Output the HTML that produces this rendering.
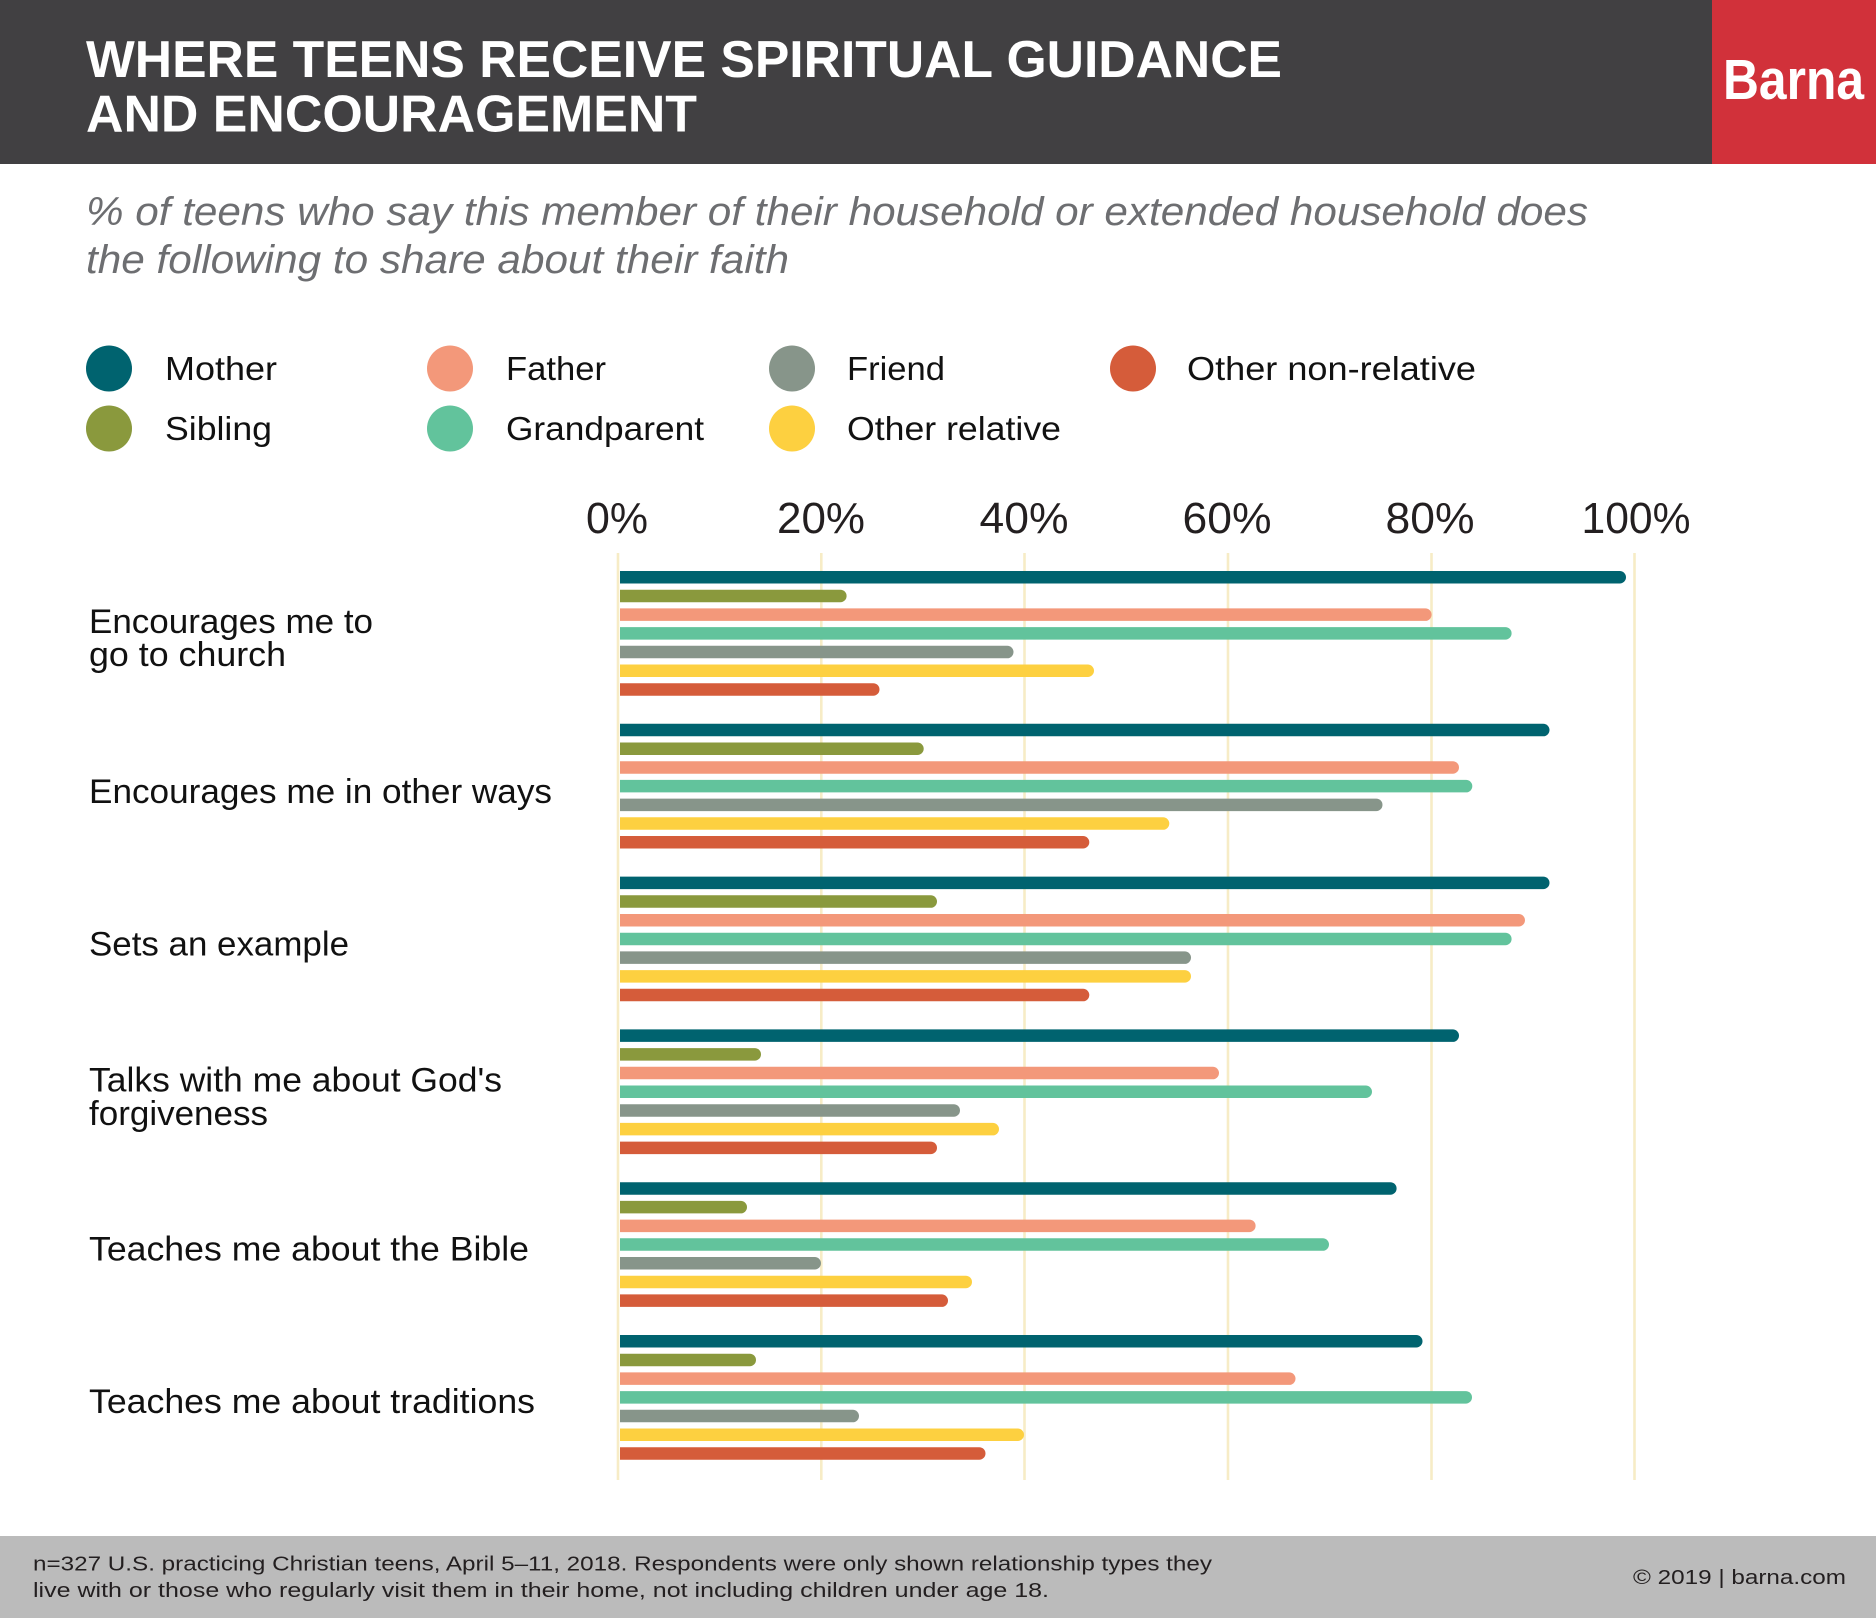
<!DOCTYPE html>
<html>
<head>
<meta charset="utf-8">
<style>
  html,body{margin:0;padding:0;background:#fff;}
  svg{display:block;}
  text{font-family:"Liberation Sans",Arial,sans-serif;}
</style>
</head>
<body>
<svg width="1876" height="1618" viewBox="0 0 1876 1618" xmlns="http://www.w3.org/2000/svg">
  <rect x="0" y="0" width="1876" height="1618" fill="#ffffff"/>
  <!-- header -->
  <rect x="0" y="0" width="1712" height="164" fill="#414042"/>
  <rect x="1712" y="0" width="164" height="164" fill="#d1313a"/>
  <text x="86" y="77" font-size="51.5" font-weight="bold" fill="#ffffff" textLength="1196" lengthAdjust="spacingAndGlyphs">WHERE TEENS RECEIVE SPIRITUAL GUIDANCE</text>
  <text x="86" y="131.5" font-size="51.5" font-weight="bold" fill="#ffffff" textLength="611" lengthAdjust="spacingAndGlyphs">AND ENCOURAGEMENT</text>
  <text x="1723" y="99" font-size="57" font-weight="bold" fill="#ffffff" textLength="141" lengthAdjust="spacingAndGlyphs">Barna</text>

  <!-- subtitle -->
  <text x="86" y="225" font-size="40" font-style="italic" fill="#6d6e71" textLength="1502" lengthAdjust="spacingAndGlyphs">% of teens who say this member of their household or extended household does</text>
  <text x="86" y="273" font-size="40" font-style="italic" fill="#6d6e71" textLength="703" lengthAdjust="spacingAndGlyphs">the following to share about their faith</text>

  <!-- legend -->
  <circle cx="109" cy="368.5" r="23" fill="#00636f"/>
  <circle cx="450" cy="368.5" r="23" fill="#f3987a"/>
  <circle cx="792" cy="368.5" r="23" fill="#87958a"/>
  <circle cx="1133" cy="368.5" r="23" fill="#d55c3a"/>
  <circle cx="109" cy="428.5" r="23" fill="#8a993d"/>
  <circle cx="450" cy="428.5" r="23" fill="#62c39c"/>
  <circle cx="792" cy="428.5" r="23" fill="#fdd040"/>
  <g font-size="33" fill="#111111">
    <text x="165" y="380" textLength="112" lengthAdjust="spacingAndGlyphs">Mother</text>
    <text x="506" y="380" textLength="100" lengthAdjust="spacingAndGlyphs">Father</text>
    <text x="847" y="380" textLength="98" lengthAdjust="spacingAndGlyphs">Friend</text>
    <text x="1187" y="380" textLength="289" lengthAdjust="spacingAndGlyphs">Other non-relative</text>
    <text x="165" y="440" textLength="107" lengthAdjust="spacingAndGlyphs">Sibling</text>
    <text x="506" y="440" textLength="198" lengthAdjust="spacingAndGlyphs">Grandparent</text>
    <text x="847" y="440" textLength="214" lengthAdjust="spacingAndGlyphs">Other relative</text>
  </g>

  <!-- axis labels -->
  <g font-size="44" fill="#231f20" text-anchor="middle">
    <text x="617" y="533" textLength="62" lengthAdjust="spacingAndGlyphs">0%</text>
    <text x="821" y="533" textLength="88" lengthAdjust="spacingAndGlyphs">20%</text>
    <text x="1024" y="533" textLength="89" lengthAdjust="spacingAndGlyphs">40%</text>
    <text x="1227" y="533" textLength="89" lengthAdjust="spacingAndGlyphs">60%</text>
    <text x="1430" y="533" textLength="89" lengthAdjust="spacingAndGlyphs">80%</text>
    <text x="1636" y="533" textLength="109" lengthAdjust="spacingAndGlyphs">100%</text>
  </g>

  <!-- gridlines -->
  <g stroke="#f7ecc6" stroke-width="2.6">
    <line x1="618" y1="553" x2="618" y2="1480"/>
    <line x1="821.3" y1="553" x2="821.3" y2="1480"/>
    <line x1="1024.5" y1="553" x2="1024.5" y2="1480"/>
    <line x1="1228" y1="553" x2="1228" y2="1480"/>
    <line x1="1431.5" y1="553" x2="1431.5" y2="1480"/>
    <line x1="1634.5" y1="553" x2="1634.5" y2="1480"/>
  </g>

  <!-- category labels -->
  <g font-size="34" fill="#111111">
    <text x="89" y="633" textLength="284" lengthAdjust="spacingAndGlyphs">Encourages me to</text>
    <text x="89" y="666" textLength="197" lengthAdjust="spacingAndGlyphs">go to church</text>
    <text x="89" y="803" textLength="463" lengthAdjust="spacingAndGlyphs">Encourages me in other ways</text>
    <text x="89" y="955.5" textLength="260" lengthAdjust="spacingAndGlyphs">Sets an example</text>
    <text x="89" y="1091.5" textLength="413" lengthAdjust="spacingAndGlyphs">Talks with me about God's</text>
    <text x="89" y="1125" textLength="179" lengthAdjust="spacingAndGlyphs">forgiveness</text>
    <text x="89" y="1260.7" textLength="440" lengthAdjust="spacingAndGlyphs">Teaches me about the Bible</text>
    <text x="89" y="1413" textLength="446" lengthAdjust="spacingAndGlyphs">Teaches me about traditions</text>
  </g>

  <!-- bars -->
  <!-- Group 1 -->
  <path fill="#00636f" d="M620 571h999.75a6.25 6.25 0 0 1 0 12.5H620z"/>
  <path fill="#8a993d" d="M620 589.7h220.35a6.25 6.25 0 0 1 0 12.5H620z"/>
  <path fill="#f3987a" d="M620 608.4h805.35a6.25 6.25 0 0 1 0 12.5H620z"/>
  <path fill="#62c39c" d="M620 627.1h885.35a6.25 6.25 0 0 1 0 12.5H620z"/>
  <path fill="#87958a" d="M620 645.8h387.25a6.25 6.25 0 0 1 0 12.5H620z"/>
  <path fill="#fdd040" d="M620 664.5h467.75a6.25 6.25 0 0 1 0 12.5H620z"/>
  <path fill="#d55c3a" d="M620 683.2h253.25a6.25 6.25 0 0 1 0 12.5H620z"/>
  <!-- Group 2 -->
  <path fill="#00636f" d="M620 723.8h923.25a6.25 6.25 0 0 1 0 12.5H620z"/>
  <path fill="#8a993d" d="M620 742.5h297.45a6.25 6.25 0 0 1 0 12.5H620z"/>
  <path fill="#f3987a" d="M620 761.2h832.75a6.25 6.25 0 0 1 0 12.5H620z"/>
  <path fill="#62c39c" d="M620 779.9h846.05a6.25 6.25 0 0 1 0 12.5H620z"/>
  <path fill="#87958a" d="M620 798.6h756.25a6.25 6.25 0 0 1 0 12.5H620z"/>
  <path fill="#fdd040" d="M620 817.3h543.05a6.25 6.25 0 0 1 0 12.5H620z"/>
  <path fill="#d55c3a" d="M620 836h463.05a6.25 6.25 0 0 1 0 12.5H620z"/>
  <!-- Group 3 -->
  <path fill="#00636f" d="M620 876.6h923.25a6.25 6.25 0 0 1 0 12.5H620z"/>
  <path fill="#8a993d" d="M620 895.3h310.75a6.25 6.25 0 0 1 0 12.5H620z"/>
  <path fill="#f3987a" d="M620 914h898.75a6.25 6.25 0 0 1 0 12.5H620z"/>
  <path fill="#62c39c" d="M620 932.7h885.35a6.25 6.25 0 0 1 0 12.5H620z"/>
  <path fill="#87958a" d="M620 951.4h564.75a6.25 6.25 0 0 1 0 12.5H620z"/>
  <path fill="#fdd040" d="M620 970.1h564.75a6.25 6.25 0 0 1 0 12.5H620z"/>
  <path fill="#d55c3a" d="M620 988.8h463.05a6.25 6.25 0 0 1 0 12.5H620z"/>
  <!-- Group 4 -->
  <path fill="#00636f" d="M620 1029.4h832.75a6.25 6.25 0 0 1 0 12.5H620z"/>
  <path fill="#8a993d" d="M620 1048.1h134.75a6.25 6.25 0 0 1 0 12.5H620z"/>
  <path fill="#f3987a" d="M620 1066.8h592.75a6.25 6.25 0 0 1 0 12.5H620z"/>
  <path fill="#62c39c" d="M620 1085.5h745.75a6.25 6.25 0 0 1 0 12.5H620z"/>
  <path fill="#87958a" d="M620 1104.2h333.75a6.25 6.25 0 0 1 0 12.5H620z"/>
  <path fill="#fdd040" d="M620 1122.9h372.75a6.25 6.25 0 0 1 0 12.5H620z"/>
  <path fill="#d55c3a" d="M620 1141.6h310.75a6.25 6.25 0 0 1 0 12.5H620z"/>
  <!-- Group 5 -->
  <path fill="#00636f" d="M620 1182.2h770.35a6.25 6.25 0 0 1 0 12.5H620z"/>
  <path fill="#8a993d" d="M620 1200.9h120.75a6.25 6.25 0 0 1 0 12.5H620z"/>
  <path fill="#f3987a" d="M620 1219.6h629.35a6.25 6.25 0 0 1 0 12.5H620z"/>
  <path fill="#62c39c" d="M620 1238.3h702.75a6.25 6.25 0 0 1 0 12.5H620z"/>
  <path fill="#87958a" d="M620 1257h194.75a6.25 6.25 0 0 1 0 12.5H620z"/>
  <path fill="#fdd040" d="M620 1275.7h345.75a6.25 6.25 0 0 1 0 12.5H620z"/>
  <path fill="#d55c3a" d="M620 1294.4h321.75a6.25 6.25 0 0 1 0 12.5H620z"/>
  <!-- Group 6 -->
  <path fill="#00636f" d="M620 1335h796.25a6.25 6.25 0 0 1 0 12.5H620z"/>
  <path fill="#8a993d" d="M620 1353.7h129.75a6.25 6.25 0 0 1 0 12.5H620z"/>
  <path fill="#f3987a" d="M620 1372.4h669.25a6.25 6.25 0 0 1 0 12.5H620z"/>
  <path fill="#62c39c" d="M620 1391.1h845.75a6.25 6.25 0 0 1 0 12.5H620z"/>
  <path fill="#87958a" d="M620 1409.8h232.75a6.25 6.25 0 0 1 0 12.5H620z"/>
  <path fill="#fdd040" d="M620 1428.5h397.75a6.25 6.25 0 0 1 0 12.5H620z"/>
  <path fill="#d55c3a" d="M620 1447.2h359.25a6.25 6.25 0 0 1 0 12.5H620z"/>

  <!-- footer -->
  <rect x="0" y="1536" width="1876" height="82" fill="#bbbbbb"/>
  <g font-size="20" fill="#231f20">
    <text x="33" y="1570.5" textLength="1179" lengthAdjust="spacingAndGlyphs">n=327 U.S. practicing Christian teens, April 5–11, 2018. Respondents were only shown relationship types they</text>
    <text x="33" y="1597" textLength="1016" lengthAdjust="spacingAndGlyphs">live with or those who regularly visit them in their home, not including children under age 18.</text>
    <text x="1633" y="1584" textLength="213" lengthAdjust="spacingAndGlyphs">© 2019 | barna.com</text>
  </g>
</svg>
</body>
</html>
